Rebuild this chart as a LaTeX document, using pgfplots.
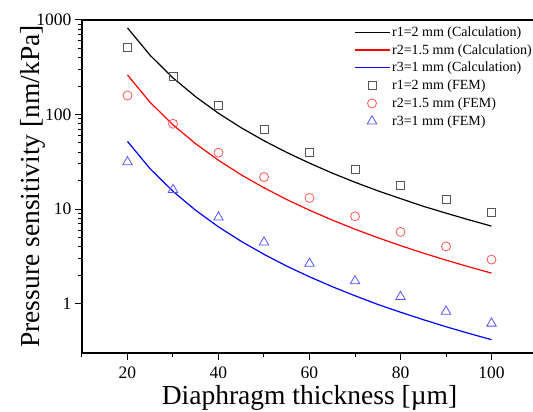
\documentclass[border=0pt]{standalone}
\usepackage{pgfplots}
\pgfplotsset{compat=1.18}
\usepackage{fontspec}
\setmainfont{Liberation Serif}
\definecolor{mblack}{HTML}{555555}
\definecolor{mred}{HTML}{FF5555}
\definecolor{mblue}{HTML}{5555FF}
\begin{document}
\begin{tikzpicture}[x=1pt,y=1pt]
\begin{axis}[
  name=ax,
  scale only axis,
  width=455pt, height=333pt,
  xmin=10, xmax=110,
  ymode=log, ymin=0.3, ymax=1000,
  xtick={20,40,60,80,100},
  minor xtick={10,30,50,70,90,110},
  ytick={1,10,100,1000},
  yticklabels={1,10,100,1000},
  tick align=outside,
  major tick length=7pt,
  minor tick length=4pt,
  tick style={black, line width=1pt},
  axis line style={line width=1.4pt},
  axis x line*=bottom, axis y line*=left,
  /pgf/number format/assume math mode=true,
  ticklabel style={font=\fontsize{17.5}{20}\selectfont},
  xticklabel style={yshift=-3pt},
  xlabel={Diaphragm thickness [\textmu m]},
  ylabel={Pressure sensitivity [nm/kPa]},
  label style={font=\fontsize{27.5}{29}\selectfont},
  xlabel style={yshift=0pt},
  ylabel style={yshift=-16pt},
  legend style={draw=none, fill=none, at={(rel axis cs:0.595,0.99)}, anchor=north west,
    font=\fontsize{14}{15}\selectfont, row sep=2.6pt, inner sep=1pt,
    /tikz/every even column/.append style={column sep=2pt}},
  legend cell align=left,
]
\addlegendimage{legend image code/.code={\draw[black, line width=1.2pt] (0pt,0pt) -- (35pt,0pt);}}
\addlegendentry{r1=2 mm (Calculation)}
\addlegendimage{legend image code/.code={\draw[red, line width=1.2pt] (0pt,0pt) -- (35pt,0pt);}}
\addlegendentry{r2=1.5 mm (Calculation)}
\addlegendimage{legend image code/.code={\draw[blue, line width=1.2pt] (0pt,0pt) -- (35pt,0pt);}}
\addlegendentry{r3=1 mm (Calculation)}
\addlegendimage{legend image code/.code={\draw[mblack, line width=0.8pt] plot[mark=square, mark size=4pt] coordinates {(17.5pt,0pt)};}}
\addlegendentry{r1=2 mm (FEM)}
\addlegendimage{legend image code/.code={\draw[mred, line width=0.8pt] plot[mark=o, mark size=4.5pt] coordinates {(17.5pt,0pt)};}}
\addlegendentry{r2=1.5 mm (FEM)}
\addlegendimage{legend image code/.code={\draw[mblue, line width=0.8pt] plot[mark=triangle, mark size=5.5pt] coordinates {(17.5pt,0pt)};}}
\addlegendentry{r3=1 mm (FEM)}
\addplot[black, line width=1.2pt, forget plot] coordinates {(20,825)(25,422)(30,244)(35,154)(40,103)(45,72.4)(50,52.8)(55,39.7)(60,30.6)(65,24.0)(70,19.2)(75,15.6)(80,12.9)(85,10.7)(90,9.05)(95,7.70)(100,6.6)};
\addplot[red, line width=1.2pt, forget plot] coordinates {(20,262)(25,134)(30,77.8)(35,49.0)(40,32.8)(45,23.0)(50,16.8)(55,12.6)(60,9.72)(65,7.65)(70,6.12)(75,4.98)(80,4.10)(85,3.42)(90,2.88)(95,2.45)(100,2.1)};
\addplot[blue, line width=1.2pt, forget plot] coordinates {(20,51.9)(25,26.6)(30,15.4)(35,9.68)(40,6.48)(45,4.55)(50,3.32)(55,2.49)(60,1.92)(65,1.51)(70,1.21)(75,0.98)(80,0.81)(85,0.676)(90,0.569)(95,0.484)(100,0.415)};
\addplot[only marks, mark=square, mark size=4pt, mblack, mark options={line width=0.8pt}, forget plot] coordinates {(20,510)(30,252)(40,124)(50,68.9)(60,40.1)(70,26.1)(80,17.8)(90,12.8)(100,9.3)};
\addplot[only marks, mark=o, mark size=4.5pt, mred, mark options={line width=0.8pt}, forget plot] coordinates {(20,159)(30,79.8)(40,39.5)(50,21.8)(60,13.1)(70,8.37)(80,5.73)(90,4.03)(100,2.92)};
\addplot[only marks, mark=triangle, mark size=5.5pt, mblue, mark options={line width=0.8pt}, forget plot] coordinates {(20,31.4)(30,16.0)(40,8.17)(50,4.45)(60,2.65)(70,1.73)(80,1.18)(90,0.826)(100,0.617)};
\end{axis}
\draw[line width=1.4pt] (ax.north west) -- (ax.north east);
\pgfresetboundingbox
\path[use as bounding box] ([xshift=-82pt,yshift=20pt]ax.north west) rectangle ([xshift=451pt,yshift=-59pt]ax.south west);
\end{tikzpicture}
\end{document}
